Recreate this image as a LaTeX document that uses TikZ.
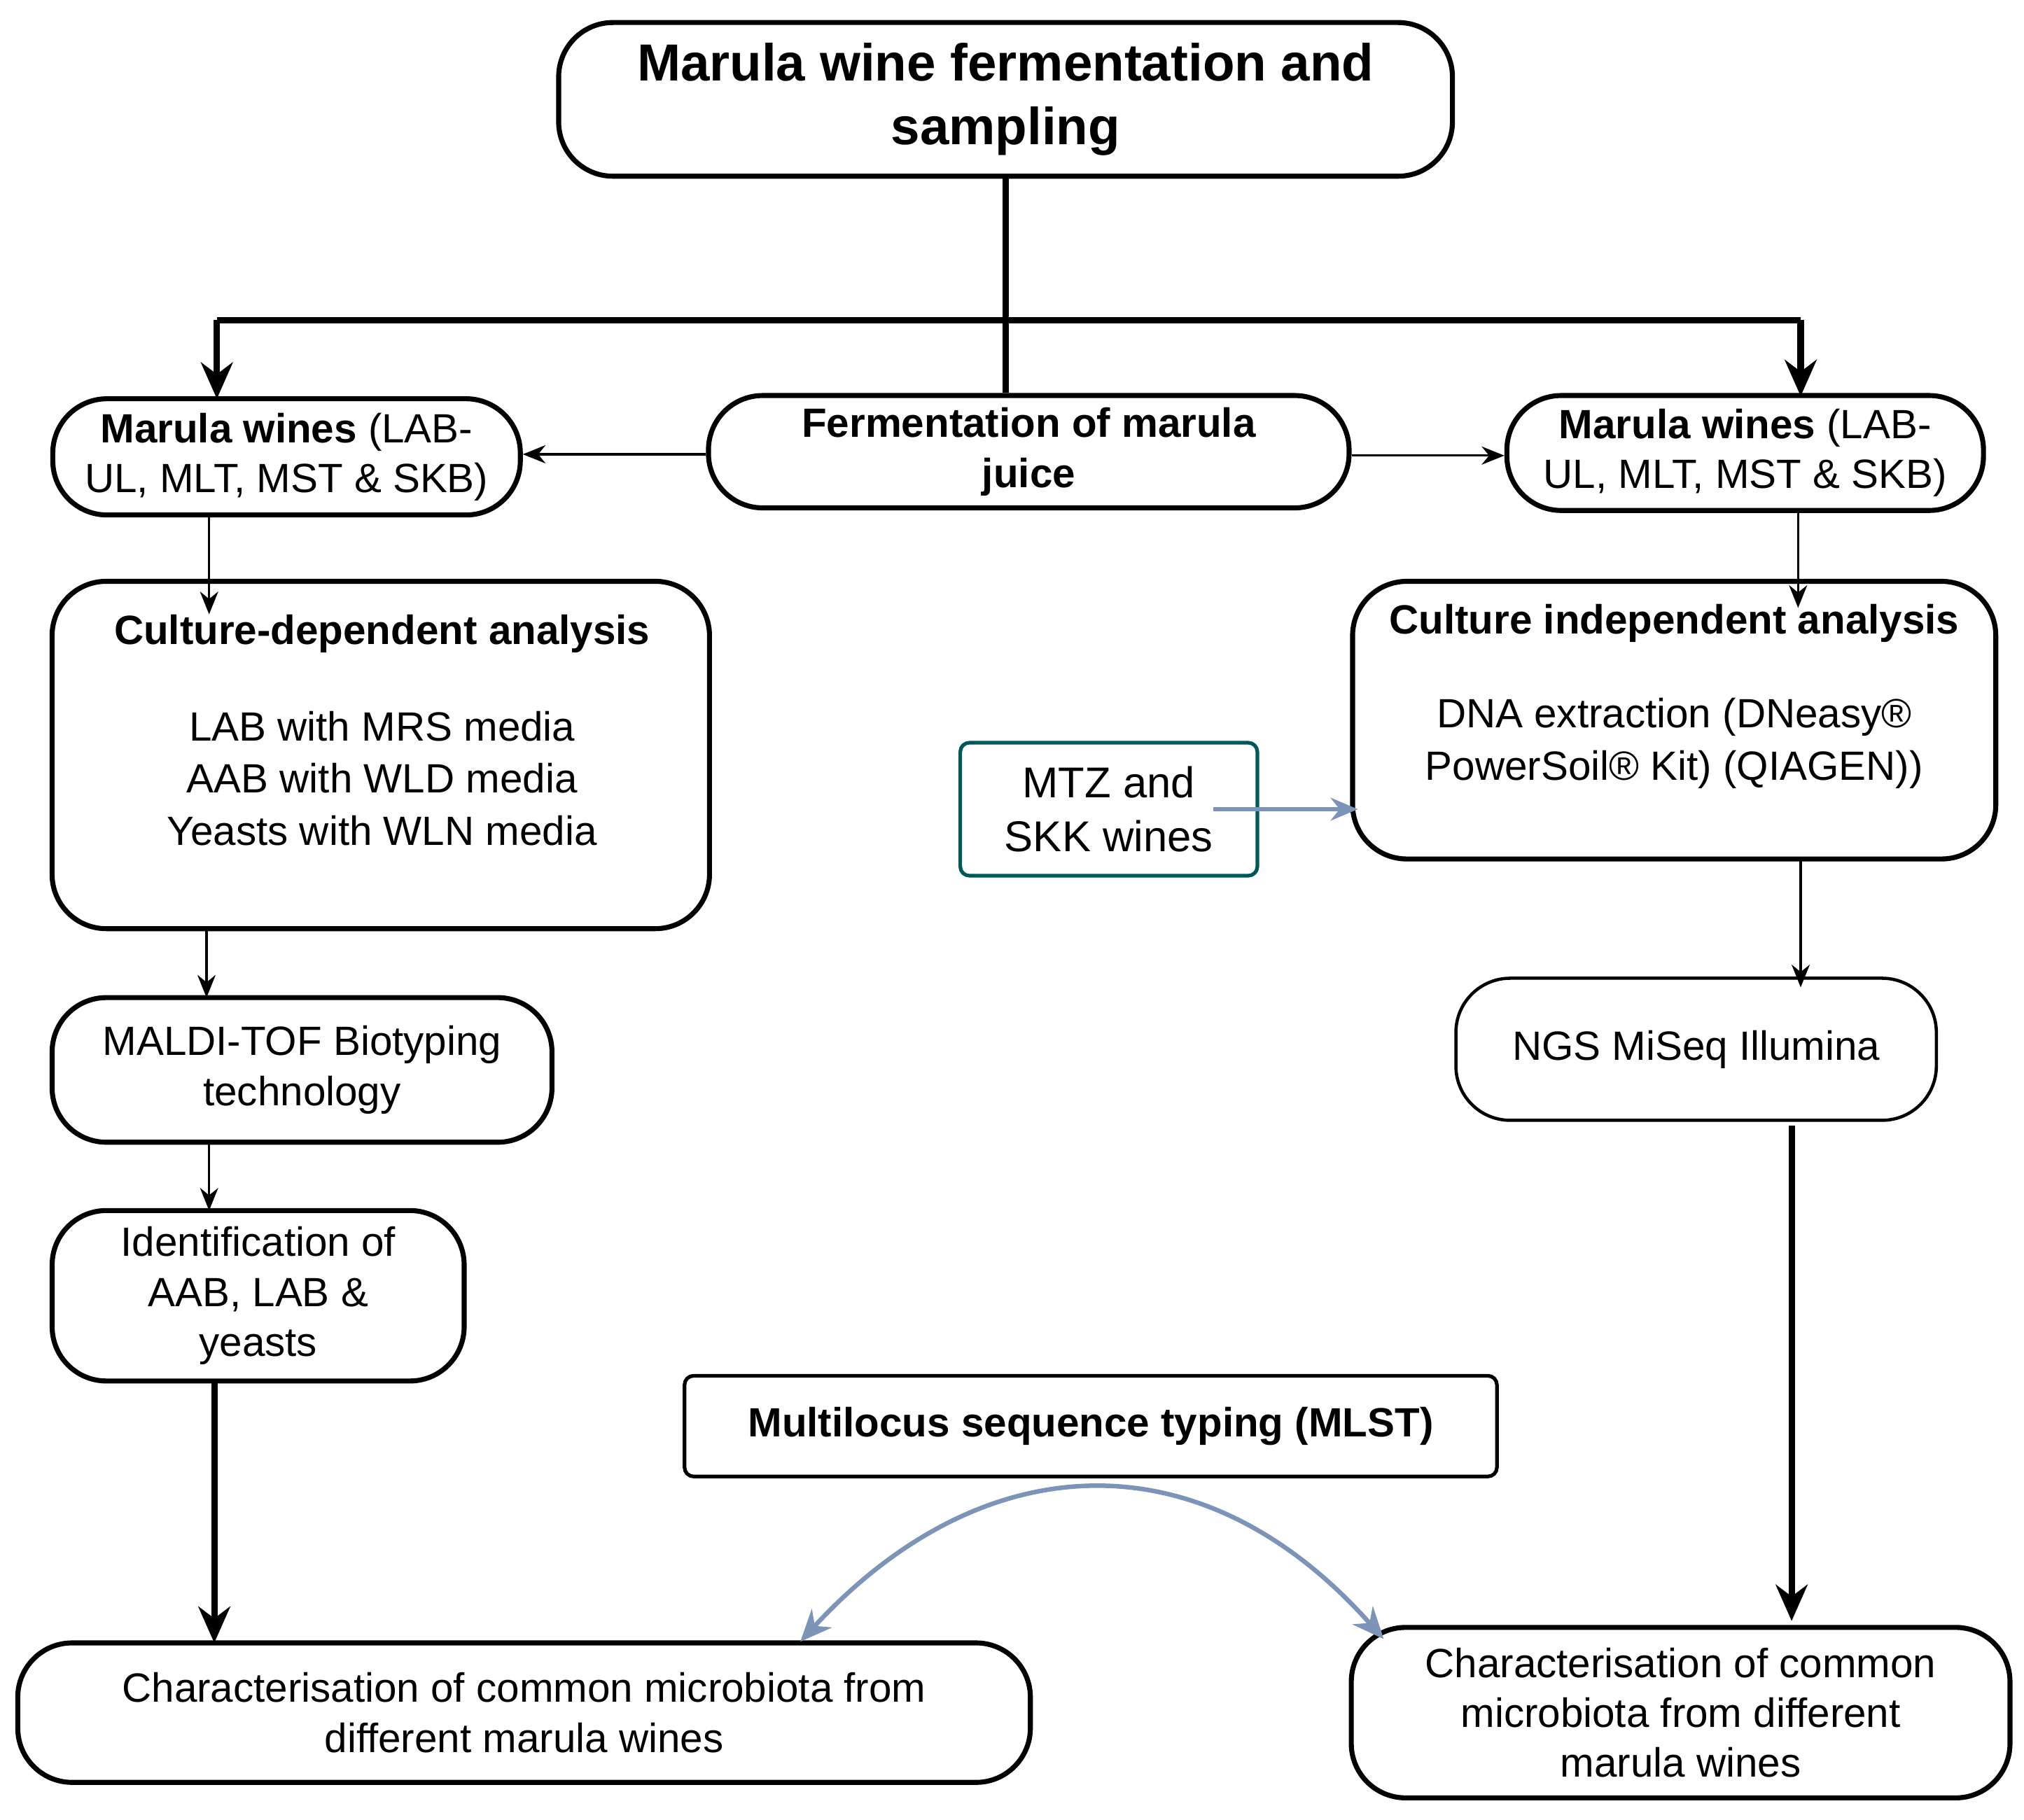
\documentclass[tikz,border=0pt]{standalone}
\usepackage{fontspec}
\setmainfont{Liberation Sans}
\usetikzlibrary{arrows.meta}
\definecolor{arrblue}{RGB}{125,148,185}
\begin{document}
\begin{tikzpicture}[x=0.01cm,y=-0.01cm,
 box/.style={draw,line width=1.1pt,rounded corners=0.42cm,align=center,inner sep=0pt,font=\fontsize{9}{11}\selectfont},
 thin/.style={line width=0.5pt,-{Stealth[length=5pt,width=4pt]}},
 thick/.style={line width=1.4pt,-{Stealth[length=8pt,width=7pt]}},
 blue/.style={draw=arrblue,line width=1pt}]
\useasboundingbox (0,0) rectangle (1568,1410);
\node[box,minimum width=6.92cm,minimum height=1.19cm,font=\bfseries\fontsize{11.5}{14}\selectfont] (t) at (779,77) {Marula wine fermentation and\\sampling};
\node[box,minimum width=4.96cm,minimum height=0.87cm,font=\bfseries\fontsize{9}{11}\selectfont] (f) at (797,350) {Fermentation of marula\\juice};
\node[box,minimum width=3.62cm,minimum height=0.90cm] (lw) at (222,354) {\textbf{Marula wines} (LAB-\\UL, MLT, MST \& SKB)};
\node[box,minimum width=3.69cm,minimum height=0.89cm] (rw) at (1352,351) {\textbf{Marula wines} (LAB-\\UL, MLT, MST \& SKB)};
\node[box,minimum width=5.09cm,minimum height=2.69cm] (cd) at (295,585) {};
\node[font=\bfseries\fontsize{9}{11}\selectfont] at (296,491) {Culture-dependent analysis};
\node[align=center,font=\fontsize{9}{11.5}\selectfont] at (296,603) {LAB with MRS media\\AAB with WLD media\\Yeasts with WLN media};
\node[box,minimum width=4.98cm,minimum height=2.15cm] (ci) at (1297,558) {};
\node[font=\bfseries\fontsize{9}{11}\selectfont] at (1297,483) {Culture independent analysis};
\node[align=center,font=\fontsize{9}{11.5}\selectfont] at (1297,576) {DNA extraction (DNeasy®\\PowerSoil® Kit) (QIAGEN))};
\node[draw=teal!70!black,line width=0.8pt,rounded corners=2pt,minimum width=2.30cm,minimum height=1.03cm,align=center,font=\fontsize{9.5}{12}\selectfont] (m) at (859,627) {MTZ and\\SKK wines};
\node[box,minimum width=3.87cm,minimum height=1.12cm] (ma) at (234,829) {MALDI-TOF Biotyping\\technology};
\node[box,line width=0.7pt,minimum width=3.72cm,minimum height=1.10cm] (n) at (1314,813) {NGS MiSeq Illumina};
\node[box,minimum width=3.19cm,minimum height=1.32cm] (id) at (200,1004) {Identification of\\AAB, LAB \&\\yeasts};
\node[draw,line width=0.8pt,rounded corners=2pt,minimum width=6.29cm,minimum height=0.78cm,font=\bfseries\fontsize{9}{11}\selectfont] (ml) at (845,1105) {Multilocus sequence typing (MLST)};
\node[box,minimum width=7.84cm,minimum height=1.08cm] (cl) at (406,1327) {Characterisation of common microbiota from\\different marula wines};
\node[box,minimum width=5.10cm,minimum height=1.32cm] (cr) at (1302,1327) {Characterisation of common\\microbiota from different\\marula wines};
\draw[line width=1.4pt] (t.south) -- (t.south |- f.north);
\draw[line width=1.4pt] (168,248) -- (1395,248);
\draw[thick] (168,248) -- (168,309);
\draw[thick] (1395,248) -- (1395,307);
\draw[thin] (f.west |- 0,352) -- (lw.east |- 0,352);
\draw[thin] (f.east |- 0,353) -- (rw.west |- 0,353);
\draw[thin] (162,399) -- (162,476);
\draw[thin] (1393,396) -- (1393,471);
\draw[thin] (160,720) -- (160,773);
\draw[thin] (162,885) -- (162,938);
\draw[thick] (166,1070) -- (166,1273);
\draw[thin] (1395,666) -- (1395,765);
\draw[thick] (1388,872) -- (1388,1256);
\draw[blue,-{Stealth[length=6pt,width=5pt]}] (940,627) -- (1052,627);
\draw[blue,{Stealth[length=7pt,width=6pt]}-{Stealth[length=7pt,width=6pt]}] (620,1272) .. controls (760,1120) and (930,1110) .. (1072,1270);
\end{tikzpicture}
\end{document}
